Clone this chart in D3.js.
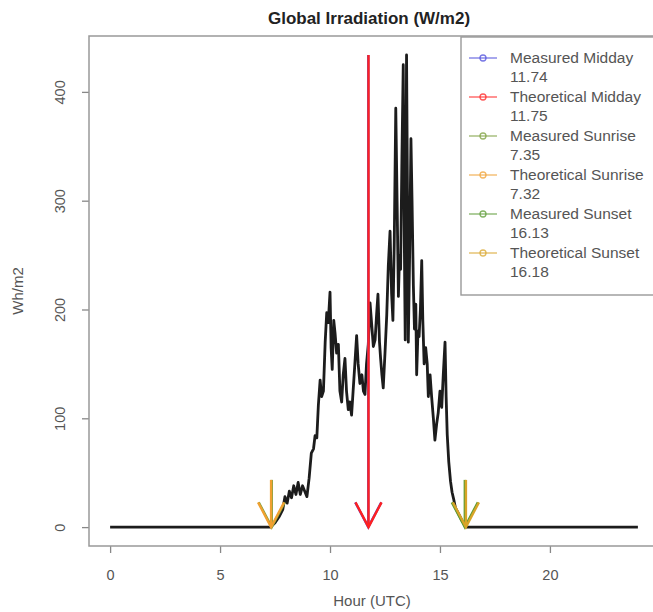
<!DOCTYPE html>
<html>
<head>
<meta charset="utf-8">
<script src="https://cdn.jsdelivr.net/npm/d3@7"></script>
<style>
  body { margin: 0; background: #fff; }
  svg { font-family: "Liberation Sans", Arial, sans-serif; }
</style>
</head>
<body>
<div id="chart"></div>
<script>
// Irradiation readings (hour UTC, Wh/m2)
const hours = [
  0, 7.30, 7.50, 7.70, 7.85, 7.95, 8.05, 8.15, 8.25, 8.35, 8.45, 8.55, 8.65, 8.75, 8.85, 8.95,
  9.05, 9.15, 9.25, 9.32, 9.40, 9.47, 9.55, 9.62, 9.70, 9.78, 9.85, 9.92,
  10.00, 10.05, 10.10, 10.17, 10.23, 10.30, 10.38, 10.45, 10.53, 10.60, 10.68, 10.75, 10.83, 10.90, 10.98,
  11.05, 11.13, 11.21, 11.28, 11.36, 11.45, 11.52, 11.59, 11.66, 11.74, 11.82, 11.90, 11.97,
  12.05, 12.12, 12.18, 12.25, 12.30, 12.36, 12.42, 12.50, 12.58, 12.65, 12.73, 12.80, 12.86, 12.92, 12.99,
  13.05, 13.11, 13.16, 13.21, 13.27, 13.33, 13.38, 13.42, 13.48, 13.53, 13.56, 13.62, 13.68, 13.73, 13.79, 13.84, 13.90, 13.94,
  14.00, 14.05, 14.11, 14.17, 14.22, 14.28, 14.35, 14.42, 14.47, 14.55, 14.62, 14.70, 14.77, 14.85, 14.92,
  15.00, 15.08, 15.15, 15.23, 15.28, 15.33, 15.40, 15.48, 15.55, 15.62, 15.70, 15.80, 15.90,
  16.00, 16.10, 16.20, 24.00
];
const irradiation = [
  0, 0, 4, 10, 16, 28, 22, 33, 27, 38, 30, 41, 30, 38, 33, 28,
  45, 68, 72, 84, 82, 112, 135, 120, 125, 170, 197, 188,
  216, 165, 145, 190, 178, 160, 168, 125, 115, 140, 155, 125, 108, 115, 103,
  125, 150, 176, 150, 132, 140, 125, 122, 150, 168, 206, 185, 166,
  172, 196, 214, 170, 155, 140, 128, 160, 195, 240, 272, 215, 190, 260, 385,
  300, 212, 250, 237, 340, 425, 260, 172, 434, 280, 170, 250, 357, 300, 222, 182, 205, 140,
  180, 175, 200, 245, 190, 150, 165, 150, 120, 140, 120, 100, 80, 95, 105,
  125, 110, 140, 170, 120, 85, 60, 42, 32, 26, 18, 14, 10,
  6, 3, 0, 0
];

// Sun events: label, hour, colour
const eventLabels = ["Measured Midday", "Theoretical Midday", "Measured Sunrise",
                     "Theoretical Sunrise", "Measured Sunset", "Theoretical Sunset"];
const eventHours = [11.74, 11.75, 7.35, 7.32, 16.13, 16.18];
const eventColors = ["#4b4bdc", "#ff2020", "#7a9e3a", "#f0a030", "#5a9a32", "#d8a428"];
const eventIsMidday = [true, true, false, false, false, false];

const xTicks = [0, 5, 10, 15, 20];
const yTicks = [0, 100, 200, 300, 400];

const width = 653;
const height = 612;
const box = { left: 89, right: 659, top: 36, bottom: 546 };

const data = hours.map((h, i) => ({ hour: h, value: irradiation[i] }));
const maxVal = d3.max(irradiation);

// R style 4% padding on both axes
const xPad = 24 * 0.04;
const yPad = maxVal * 0.04;
const x = d3.scaleLinear().domain([0 - xPad, 24 + xPad]).range([box.left, box.right]);
const y = d3.scaleLinear().domain([0 - yPad, maxVal + yPad]).range([box.bottom, box.top]);

const svg = d3.select("#chart").append("svg")
  .attr("width", width)
  .attr("height", height);

// title
svg.append("text")
  .attr("x", 369)
  .attr("y", 24)
  .attr("text-anchor", "middle")
  .attr("font-size", "17px")
  .attr("font-weight", "bold")
  .attr("fill", "#222")
  .text("Global Irradiation (W/m2)");

// axes
const xAxis = svg.append("g")
  .attr("transform", `translate(0,${box.bottom})`)
  .call(d3.axisBottom(x).tickValues(xTicks).tickSize(7).tickPadding(17));
const yAxis = svg.append("g")
  .attr("transform", `translate(${box.left},0)`)
  .call(d3.axisLeft(y).tickValues(yTicks).tickSize(7).tickPadding(12));

[xAxis, yAxis].forEach((g) => {
  g.select(".domain").remove();
  g.selectAll("line").attr("stroke", "#888").attr("stroke-width", 1.3);
  g.selectAll("text").attr("fill", "#555").attr("font-size", "14.5px")
    .attr("font-family", "Liberation Sans, Arial, sans-serif");
});
yAxis.selectAll("text")
  .attr("text-anchor", "middle")
  .attr("x", -29)
  .attr("y", 0)
  .attr("dy", "0.35em")
  .attr("transform", "rotate(-90, -29, 0)");

// axis titles
svg.append("text")
  .attr("x", 372)
  .attr("y", 606)
  .attr("text-anchor", "middle")
  .attr("font-size", "15px")
  .attr("fill", "#555")
  .text("Hour (UTC)");
svg.append("text")
  .attr("transform", `translate(23, ${(box.top + box.bottom) / 2}) rotate(-90)`)
  .attr("text-anchor", "middle")
  .attr("font-size", "15px")
  .attr("fill", "#555")
  .text("Wh/m2");

// plot box
svg.append("rect")
  .attr("x", box.left)
  .attr("y", box.top)
  .attr("width", box.right - box.left)
  .attr("height", box.bottom - box.top)
  .attr("fill", "none")
  .attr("stroke", "#999")
  .attr("stroke-width", 1.5);

// irradiation line
const line = d3.line().x((d) => x(d.hour)).y((d) => y(d.value));
svg.append("path")
  .datum(data)
  .attr("d", line)
  .attr("fill", "none")
  .attr("stroke", "#1c1c1c")
  .attr("stroke-width", 2.8)
  .attr("stroke-linejoin", "round");

// arrows for sun events
function drawArrow(hour, top, color) {
  const x0 = x(hour);
  const y0 = y(top);
  const y1 = y(0);
  const headLen = 28;
  const ang = Math.PI / 6.5;
  const g = svg.append("g")
    .attr("fill", "none")
    .attr("stroke", color)
    .attr("stroke-width", 2.4);
  g.append("line").attr("x1", x0).attr("y1", y0).attr("x2", x0).attr("y2", y1);
  g.append("path")
    .attr("d", `M${x0 - headLen * Math.sin(ang)},${y1 - headLen * Math.cos(ang)}L${x0},${y1}L${x0 + headLen * Math.sin(ang)},${y1 - headLen * Math.cos(ang)}`);
}

eventHours.forEach((h, i) => {
  drawArrow(h, eventIsMidday[i] ? maxVal : maxVal / 10, eventColors[i]);
});

// legend
const legend = svg.append("g").attr("transform", `translate(461, ${box.top})`);
legend.append("rect")
  .attr("x", 0)
  .attr("y", 1)
  .attr("width", box.right - 461)
  .attr("height", 258)
  .attr("fill", "#fff")
  .attr("stroke", "#999")
  .attr("stroke-width", 1.4);

const rowStep = 39;
eventLabels.forEach((label, i) => {
  const cy = 22 + i * rowStep;
  const c = eventColors[i];
  legend.append("line")
    .attr("x1", 8).attr("x2", 36)
    .attr("y1", cy).attr("y2", cy)
    .attr("stroke", c).attr("stroke-width", 1.3).attr("opacity", 0.75);
  legend.append("circle")
    .attr("cx", 22).attr("cy", cy).attr("r", 3)
    .attr("fill", "none").attr("stroke", c).attr("stroke-width", 1.3).attr("opacity", 0.75);
  legend.append("text")
    .attr("x", 49).attr("y", cy)
    .attr("dy", "0.35em")
    .attr("font-size", "15.5px")
    .attr("fill", "#555")
    .text(label);
  legend.append("text")
    .attr("x", 49).attr("y", cy + 18.5)
    .attr("dy", "0.35em")
    .attr("font-size", "15.5px")
    .attr("fill", "#555")
    .text(eventHours[i].toFixed(2));
});
</script>
</body>
</html>
